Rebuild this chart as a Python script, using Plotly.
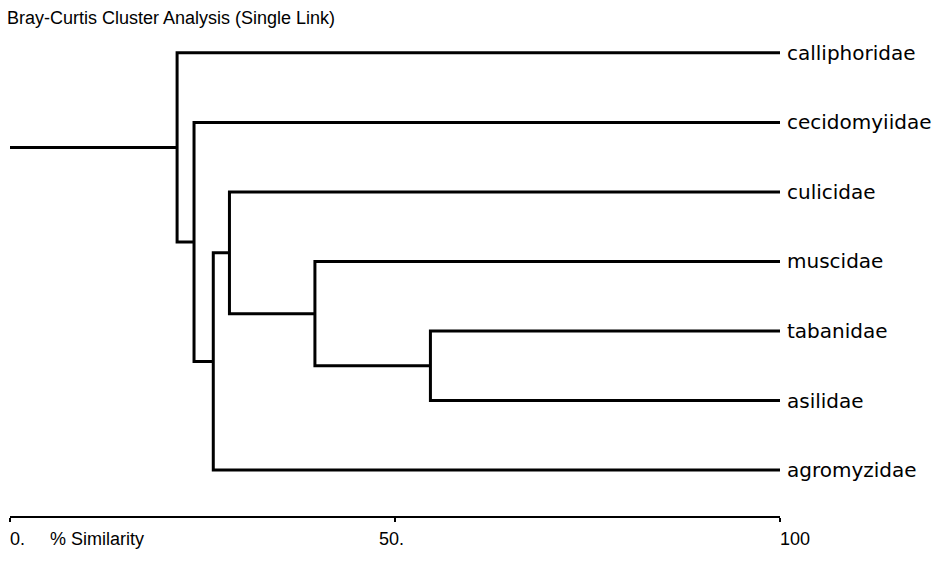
import plotly.graph_objects as go

# ---- data ----
leaf_names = ["calliphoridae", "cecidomyiidae", "culicidae", "muscidae",
              "tabanidae", "asilidae", "agromyzidae"]
# merges: child A, child B, % similarity at which they join (single link)
merge_a = ["tabanidae", "muscidae", "culicidae", "N3", "cecidomyiidae", "calliphoridae"]
merge_b = ["asilidae", "N1", "N2", "agromyzidae", "N4", "N5"]
merge_sim = [54.6, 39.6, 28.5, 26.4, 23.9, 21.7]
axis_ticks = [0, 50, 100]
axis_tick_labels = ["0.", "50.", "100"]
axis_title = "% Similarity"
chart_title = "Bray-Curtis Cluster Analysis (Single Link)"

# ---- build dendrogram segments ----
pos_y = {name: i for i, name in enumerate(leaf_names)}
pos_x = {name: 100 for name in leaf_names}
xs, ys = [], []
for k, (a, b, s) in enumerate(zip(merge_a, merge_b, merge_sim), start=1):
    ya, yb = pos_y[a], pos_y[b]
    xs += [pos_x[a], s, s, pos_x[b], None]
    ys += [ya, ya, yb, yb, None]
    node = f"N{k}"
    pos_y[node] = (ya + yb) / 2
    pos_x[node] = s
root = f"N{len(merge_sim)}"
xs += [0, pos_x[root], None]
ys += [pos_y[root], pos_y[root], None]

fig = go.Figure()
fig.add_trace(go.Scatter(x=xs, y=ys, mode="lines",
                         line=dict(color="black", width=3),
                         hoverinfo="skip", showlegend=False))

label_font = dict(family="DejaVu Sans", size=20, color="black")
small_font = dict(family="Liberation Sans", size=18, color="black")
annotations = []
for name in leaf_names:
    annotations.append(dict(x=100, y=pos_y[name], xref="x", yref="y",
                            text=name, showarrow=False, xanchor="left",
                            yanchor="middle", xshift=5, font=label_font))
tick_anchor = {0: ("left", -2), 50: ("center", -4), 100: ("left", -2)}
for v, t in zip(axis_ticks, axis_tick_labels):
    anc, sh = tick_anchor[v]
    annotations.append(dict(x=v, y=0, xref="x", yref="paper", text=t,
                            showarrow=False, xanchor=anc, yanchor="top",
                            xshift=sh, yshift=-11, font=small_font))
annotations.append(dict(x=4.9, y=0, xref="x", yref="paper", text=axis_title,
                        showarrow=False, xanchor="left", yanchor="top",
                        yshift=-11, font=small_font))

fig.update_layout(
    width=943, height=583,
    margin=dict(l=10, r=163, t=32, b=67),
    paper_bgcolor="white", plot_bgcolor="white",
    title=dict(text=chart_title, x=7 / 943, xanchor="left",
               y=1 - 18 / 583, yanchor="middle",
               font=dict(family="Liberation Sans", size=18, color="black")),
    xaxis=dict(range=[0, 100], showgrid=False, zeroline=False,
               showline=True, linecolor="black", linewidth=2,
               tickvals=axis_ticks, ticks="outside", ticklen=4,
               tickwidth=2, tickcolor="black", showticklabels=False,
               fixedrange=True),
    yaxis=dict(range=[6.66, -0.3], visible=False, fixedrange=True),
    annotations=annotations,
)

fig.write_html("out.html")
